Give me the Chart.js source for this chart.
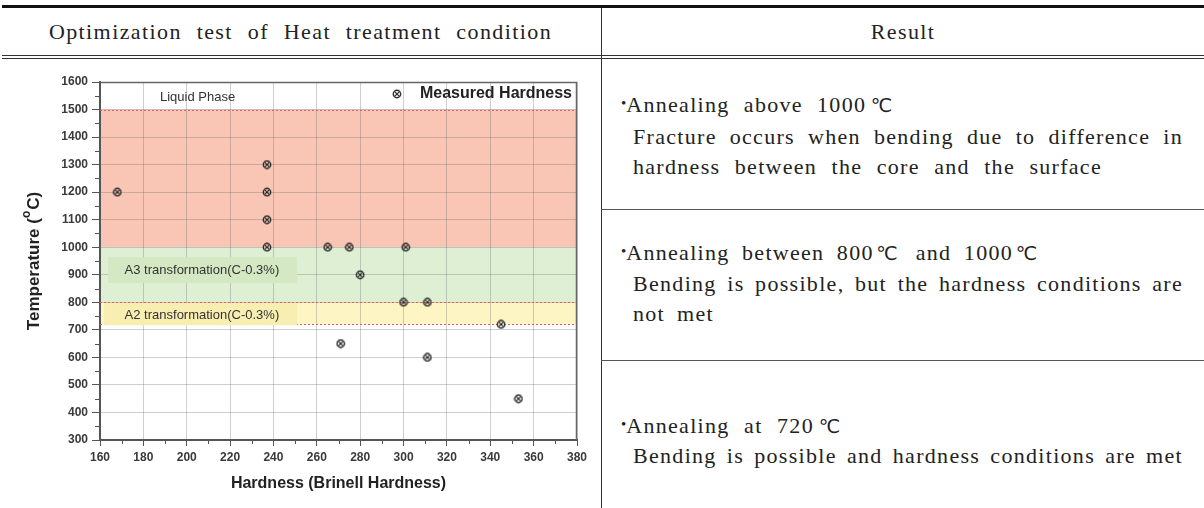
<!DOCTYPE html>
<html>
<head>
<meta charset="utf-8">
<script src="https://cdn.jsdelivr.net/npm/chart.js@4.4.1/dist/chart.umd.min.js"></script>
<style>
  html, body { margin: 0; padding: 0; background: #fff; }
  body { width: 1204px; height: 508px; position: relative; overflow: hidden;
         font-family: 'Liberation Serif', 'Times New Roman', serif; color: #222; }
  .raya { position: absolute; background: #333; }
  .cab { position: absolute; top: 16px; height: 32px; line-height: 32px; font-size: 22px;
         letter-spacing: 1.4px; word-spacing: 8px; white-space: nowrap; text-align: center; }
  .ln { position: absolute; height: 30px; line-height: 30px; font-size: 22px; letter-spacing: 1.3px;
        white-space: nowrap; text-align: justify; text-align-last: justify; }
  .b { font-size: 15px; position: relative; top: -4px; letter-spacing: 0; }
  .c { font-family: 'DejaVu Sans', sans-serif; font-size: 19px; margin-left: -3px; letter-spacing: 0; }
  #grafica { position: absolute; left: 0; top: 56px; }
</style>
</head>
<body>
<div class="raya" style="left:2px; right:0; top:5px; height:3px; background:#111;"></div>
<div class="raya" style="left:2px; right:0; top:55px; height:1px;"></div>
<div class="raya" style="left:2px; right:0; top:58px; height:1px;"></div>
<div class="raya" style="left:601px; top:8px; width:1px; height:500px;"></div>
<div class="raya" style="left:601px; right:0; top:209px; height:1px; background:#555;"></div>
<div class="raya" style="left:601px; right:0; top:360px; height:1px; background:#555;"></div>

<div class="cab" style="left:0; width:601px;">Optimization test of Heat treatment condition</div>
<div class="cab" style="left:602px; width:602px;">Result</div>

<div class="ln" style="left:621px; top:90px; width:271px;"><span class="b">•</span>Annealing above 1000<span class="c">℃</span></div>
<div class="ln" style="left:633px; top:122px; width:550px;">Fracture occurs when bending due to difference in</div>
<div class="ln" style="left:633px; top:152px; width:469px;">hardness between the core and the surface</div>

<div class="ln" style="left:621px; top:238px; width:416px;"><span class="b">•</span>Annealing between 800<span class="c">℃</span> and 1000<span class="c">℃</span></div>
<div class="ln" style="left:633px; top:269px; width:550px;">Bending is possible, but the hardness conditions are</div>
<div class="ln" style="left:633px; top:299px; width:81px;">not met</div>

<div class="ln" style="left:621px; top:411px; width:219px;"><span class="b">•</span>Annealing at 720<span class="c">℃</span></div>
<div class="ln" style="left:633px; top:441px; width:550px;">Bending is possible and hardness conditions are met</div>

<canvas id="grafica" width="600" height="452"></canvas>

<script>
// datos
const dureza = [168, 237, 237, 237, 237, 265, 275, 301, 280, 300, 311, 271, 311, 345, 353];
const temperatura = [1200, 1300, 1200, 1100, 1000, 1000, 1000, 1000, 900, 800, 800, 650, 600, 720, 450];

const rangoX = [160, 380];
const rangoY = [300, 1600];
const pasoX = 20;
const pasoY = 100;

const zonaNombres = ['Liquid Phase', 'A3 transformation(C-0.3%)', 'A2 transformation(C-0.3%)'];
const zonaDesde = [1000, 800, 720];
const zonaHasta = [1500, 1000, 800];
const lineasLimite = [1500, 800, 720];
const serieNombre = 'Measured Hardness';

const COLORES = {
  zonas: ['#f9c5b5', '#dfefd4', '#fdf5c4'],
  cajas: ['#d4e8c4', '#f9eeb2'],
  malla: 'rgba(110,110,110,0.33)',
  eje: '#555',
  texto: '#333',
  limite: '#e0605a'
};
const SANS = "'Liberation Sans', Arial, sans-serif";

// marcador: circulo con una X
const crearMarcador = () => {
  const c = document.createElement('canvas');
  c.width = 10; c.height = 10;
  const g = c.getContext('2d');
  g.strokeStyle = '#2a2a2a';
  g.lineWidth = 1.4;
  g.beginPath();
  g.arc(5, 5, 3.7, 0, Math.PI * 2);
  g.stroke();
  g.lineWidth = 1.2;
  g.beginPath();
  g.moveTo(2.6, 2.6); g.lineTo(7.4, 7.4);
  g.moveTo(7.4, 2.6); g.lineTo(2.6, 7.4);
  g.stroke();
  return c;
};
const marcador = crearMarcador();

const pluginZonas = {
  id: 'zonas',
  beforeDraw(chart) {
    const { ctx, chartArea: a, scales: { y } } = chart;
    ctx.save();
    zonaDesde.forEach((v, i) => {
      const arriba = y.getPixelForValue(zonaHasta[i]);
      const abajo = y.getPixelForValue(v);
      ctx.fillStyle = COLORES.zonas[i];
      ctx.fillRect(a.left, arriba, a.right - a.left, abajo - arriba);
    });
    ctx.restore();
  },
  beforeDatasetsDraw(chart) {
    const { ctx, chartArea: a, scales: { x, y } } = chart;
    ctx.save();
    // lineas punteadas de limite
    ctx.strokeStyle = COLORES.limite;
    ctx.lineWidth = 1;
    ctx.setLineDash([2, 2]);
    lineasLimite.forEach(v => {
      const py = Math.round(y.getPixelForValue(v)) + 0.5;
      ctx.beginPath();
      ctx.moveTo(a.left, py);
      ctx.lineTo(a.right, py);
      ctx.stroke();
    });
    ctx.setLineDash([]);

    // cajas de las etiquetas A3 / A2
    const cajas = [[163.7, 250.9, 964, 870], [161.9, 250.9, 797, 717]];
    cajas.forEach((c, i) => {
      const x0 = x.getPixelForValue(c[0]), x1 = x.getPixelForValue(c[1]);
      const y0 = y.getPixelForValue(c[2]), y1 = y.getPixelForValue(c[3]);
      ctx.fillStyle = COLORES.cajas[i];
      ctx.fillRect(x0, y0, x1 - x0, y1 - y0);
    });

    ctx.fillStyle = COLORES.texto;
    ctx.font = `13px ${SANS}`;
    ctx.textAlign = 'center';
    ctx.textBaseline = 'middle';
    const posiciones = [[205, 1545], [207, 917], [207, 754]];
    zonaNombres.forEach((t, i) => {
      ctx.fillText(t, x.getPixelForValue(posiciones[i][0]), y.getPixelForValue(posiciones[i][1]));
    });
    ctx.restore();
  },
  afterDraw(chart) {
    const { ctx, chartArea: a, scales: { x, y } } = chart;
    ctx.save();
    // marco superior y derecho
    ctx.strokeStyle = '#666';
    ctx.lineWidth = 1.5;
    ctx.beginPath();
    ctx.moveTo(a.left, a.top + 0.5);
    ctx.lineTo(a.right - 0.5, a.top + 0.5);
    ctx.lineTo(a.right - 0.5, a.bottom);
    ctx.stroke();

    // marcas menores
    ctx.strokeStyle = COLORES.eje;
    ctx.lineWidth = 1;
    ctx.beginPath();
    for (let i = 0; i < x.ticks.length - 1; i++) {
      const px = Math.round(x.getPixelForValue((x.ticks[i].value + x.ticks[i + 1].value) / 2)) + 0.5;
      ctx.moveTo(px, a.bottom);
      ctx.lineTo(px, a.bottom + 4);
    }
    for (let i = 0; i < y.ticks.length - 1; i++) {
      const py = Math.round(y.getPixelForValue((y.ticks[i].value + y.ticks[i + 1].value) / 2)) + 0.5;
      ctx.moveTo(a.left - 5, py);
      ctx.lineTo(a.left, py);
    }
    ctx.stroke();

    // titulo del eje Y con superindice
    ctx.translate(34, (a.top + a.bottom) / 2);
    ctx.rotate(-Math.PI / 2);
    ctx.fillStyle = '#222';
    ctx.textBaseline = 'middle';
    ctx.textAlign = 'left';
    const fGrande = `bold 17px ${SANS}`, fChica = `bold 12px ${SANS}`;
    ctx.font = fGrande;
    const w1 = ctx.measureText('Temperature (').width;
    const w3 = ctx.measureText('C)').width;
    ctx.font = fChica;
    const w2 = ctx.measureText('o').width + 1;
    let cx = -(w1 + w2 + w3) / 2;
    ctx.font = fGrande;
    ctx.fillText('Temperature (', cx, 0);
    cx += w1;
    ctx.font = fChica;
    ctx.fillText('o', cx, -7);
    cx += w2;
    ctx.font = fGrande;
    ctx.fillText('C)', cx, 0);
    ctx.setTransform(1, 0, 0, 1, 0, 0);

    // leyenda
    const ly = a.top + 12;
    ctx.font = `bold 16px ${SANS}`;
    ctx.textAlign = 'right';
    ctx.fillStyle = '#222';
    ctx.fillText(serieNombre, a.right - 5, ly);
    const lw = ctx.measureText(serieNombre).width;
    ctx.drawImage(marcador, a.right - 5 - lw - 23 - marcador.width / 2, ly - marcador.height / 2);
    ctx.restore();
  }
};

const ejeComun = {
  type: 'linear',
  border: { display: true, color: COLORES.eje, width: 2 },
  grid: { color: COLORES.malla, lineWidth: 1, drawTicks: true, tickColor: COLORES.eje },
  ticks: { color: '#3a3a3a', font: { family: SANS, size: 12, weight: 'bold' }, callback: v => String(v) }
};

new Chart(document.getElementById('grafica'), {
  type: 'scatter',
  data: {
    datasets: [{
      label: serieNombre,
      data: dureza.map((d, i) => ({ x: d, y: temperatura[i] })),
      pointStyle: marcador,
      pointRadius: 5,
      pointHoverRadius: 5
    }]
  },
  options: {
    responsive: false,
    animation: false,
    events: [],
    layout: { padding: { left: 0, top: 26, right: 23, bottom: 0 } },
    plugins: { legend: { display: false }, tooltip: { enabled: false } },
    scales: {
      x: {
        ...ejeComun,
        position: 'bottom',
        min: rangoX[0], max: rangoX[1],
        grid: { ...ejeComun.grid, tickLength: 6 },
        ticks: { ...ejeComun.ticks, stepSize: pasoX, padding: 4, maxRotation: 0, autoSkip: false },
        title: { display: true, text: 'Hardness (Brinell Hardness)', color: '#222',
                 font: { family: SANS, size: 16, weight: 'bold' }, padding: { top: 0, bottom: 15 } },
        afterFit: s => { s.height = 68; }
      },
      y: {
        ...ejeComun,
        position: 'left',
        min: rangoY[0], max: rangoY[1],
        grid: { ...ejeComun.grid, tickLength: 8 },
        ticks: { ...ejeComun.ticks, stepSize: pasoY, padding: 4, autoSkip: false },
        afterFit: s => { s.width = 100; }
      }
    }
  },
  plugins: [pluginZonas]
});
</script>
</body>
</html>
